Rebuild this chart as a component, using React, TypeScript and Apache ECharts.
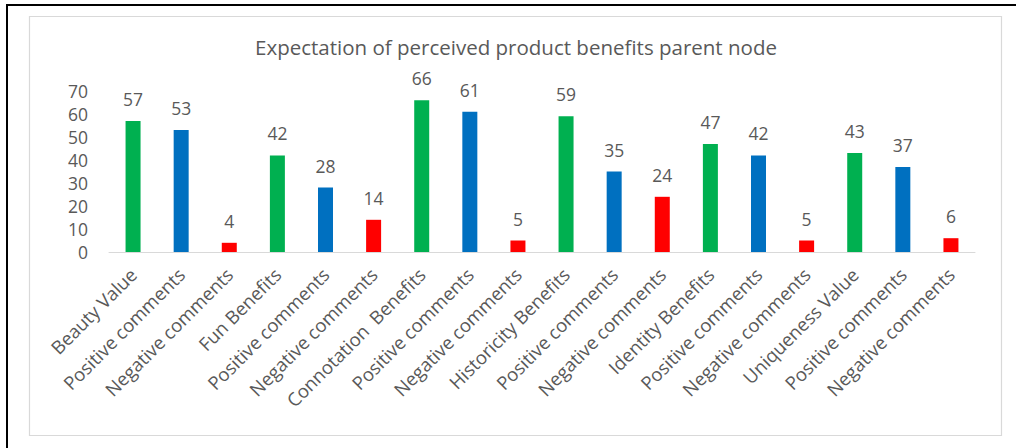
import React, { useEffect, useRef } from "react";
import * as echarts from "echarts";

const titleText = "Expectation of perceived product benefits parent node";

const categories = [
  "Beauty Value",
  "Positive comments",
  "Negative comments",
  "Fun Benefits",
  "Positive comments",
  "Negative comments",
  "Connotation  Benefits",
  "Positive comments",
  "Negative comments",
  "Historicity Benefits",
  "Positive comments",
  "Negative comments",
  "Identity Benefits",
  "Positive comments",
  "Negative comments",
  "Uniqueness Value",
  "Positive comments",
  "Negative comments",
];

const values = [57, 53, 4, 42, 28, 14, 66, 61, 5, 59, 35, 24, 47, 42, 5, 43, 37, 6];

// bar kind per category: parent node, positive, negative
const kinds = ["parent", "positive", "negative", "parent", "positive", "negative", "parent", "positive", "negative", "parent", "positive", "negative", "parent", "positive", "negative", "parent", "positive", "negative"];

const kindColors: Record<string, string> = {
  parent: "#00B050",
  positive: "#0070C0",
  negative: "#FF0000",
};

const yMin = 0;
const yMax = 70;
const yInterval = 10;

const FONT = "'Open Sans', 'Noto Sans', sans-serif";
const TEXT_COLOR = "#595959";

export default function App() {
  const ref = useRef<HTMLDivElement>(null);

  useEffect(() => {
    if (!ref.current) return;
    const chart = echarts.init(ref.current, undefined, { renderer: "svg" });
    chart.setOption({
      animation: false,
      backgroundColor: "#ffffff",
      title: {
        text: titleText,
        left: 516,
        top: 36,
        padding: 0,
        textAlign: "center",
        textStyle: {
          fontFamily: FONT,
          fontSize: 20.5,
          fontWeight: "normal",
          color: TEXT_COLOR,
        },
      },
      graphic: [
        {
          type: "line",
          shape: { x1: 7, y1: 5, x2: 1016, y2: 5 },
          style: { stroke: "#000000", lineWidth: 2 },
          silent: true,
        },
        {
          type: "line",
          shape: { x1: 7, y1: 4, x2: 7, y2: 448 },
          style: { stroke: "#000000", lineWidth: 2 },
          silent: true,
        },
        {
          type: "rect",
          shape: { x: 29.5, y: 16.5, width: 972, height: 419 },
          style: { fill: "none", stroke: "#d9d9d9", lineWidth: 1.2 },
          silent: true,
        },
      ],
      grid: {
        left: 109,
        top: 91,
        width: 866,
        height: 161,
        containLabel: false,
      },
      xAxis: {
        type: "category",
        data: categories,
        axisLine: { show: true, lineStyle: { color: "#d9d9d9", width: 1 } },
        axisTick: { show: false },
        axisLabel: {
          interval: 0,
          rotate: 45,
          margin: 19,
          fontFamily: FONT,
          fontSize: 18.5,
          color: TEXT_COLOR,
        },
      },
      yAxis: {
        type: "value",
        min: yMin,
        max: yMax,
        interval: yInterval,
        axisLine: { show: false },
        axisTick: { show: false },
        splitLine: { show: false },
        axisLabel: {
          margin: 21,
          fontFamily: FONT,
          fontSize: 17.5,
          color: TEXT_COLOR,
        },
      },
      series: [
        {
          type: "bar",
          barWidth: 15,
          data: values.map((v, i) => ({
            value: v,
            itemStyle: { color: kindColors[kinds[i]] },
          })),
          label: {
            show: true,
            position: "top",
            distance: 13,
            fontFamily: FONT,
            fontSize: 17.5,
            color: TEXT_COLOR,
          },
        },
      ],
    });
    return () => chart.dispose();
  }, []);

  return (
    <div
      ref={ref}
      style={{ position: "fixed", left: 0, top: 0, width: 1016, height: 448 }}
    />
  );
}
